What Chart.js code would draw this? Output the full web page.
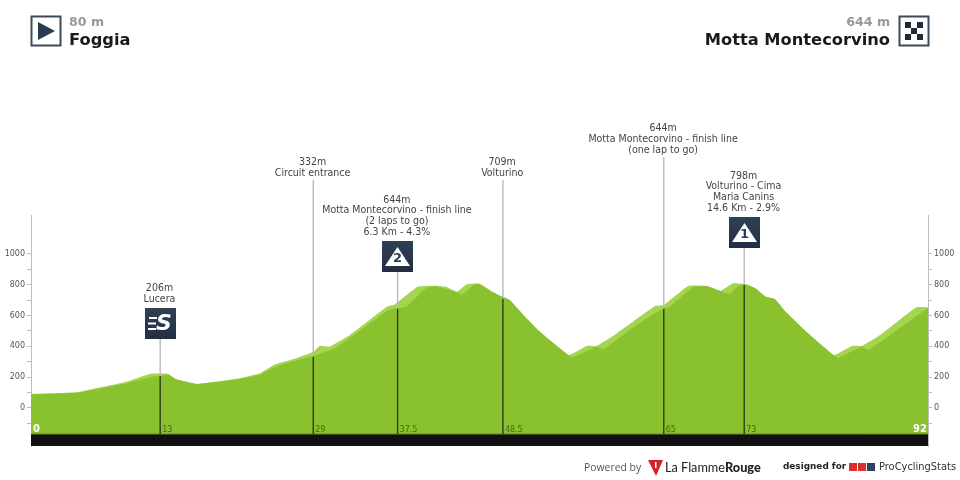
<!DOCTYPE html>
<html>
<head>
<meta charset="utf-8">
<title>Foggia - Motta Montecorvino</title>
<script src="https://cdn.jsdelivr.net/npm/chart.js@4/dist/chart.umd.min.js"></script>
<style>
    html, body { margin: 0; padding: 0; background: #fff; }
    #wrap { position: relative; width: 960px; height: 480px; overflow: hidden; }
    #profile { position: absolute; left: 0; top: 0; }
    .abs { position: absolute; white-space: nowrap; line-height: 1; }
    .head { font-family: "DejaVu Sans", sans-serif; font-weight: bold; }
    .alt { font-size: 12.6px; color: #999; top: 16px; }
    .place { font-size: 16.3px; color: #1a1a1a; top: 32px; }
    svg { position: absolute; }
</style>
</head>
<body>
<div id="wrap">
    <canvas id="profile" width="960" height="480"></canvas>

    <svg style="left:30px;top:15px" width="32" height="32">
        <rect x="1.5" y="1.5" width="29" height="29" fill="#fff" stroke="#3d4a5a" stroke-width="2"/>
        <polygon points="8,7 8,25 25,16" fill="#2a3b52"/>
    </svg>
    <div class="abs head alt" style="left:69px">80 m</div>
    <div class="abs head place" style="left:69px">Foggia</div>

    <svg style="left:898px;top:15px" width="32" height="32">
        <rect x="1.5" y="1.5" width="29" height="29" fill="#fff" stroke="#3d4a5a" stroke-width="2"/>
        <rect x="7" y="7" width="18" height="18" fill="#fff"/>
        <g fill="#1f2b3a">
            <rect x="7" y="7" width="6" height="6"/><rect x="19" y="7" width="6" height="6"/>
            <rect x="13" y="13" width="6" height="6"/>
            <rect x="7" y="19" width="6" height="6"/><rect x="19" y="19" width="6" height="6"/>
        </g>
    </svg>
    <div class="abs head alt" style="right:70px">644 m</div>
    <div class="abs head place" style="right:70px">Motta Montecorvino</div>

    <div class="abs" style="left:584px;top:460px;font:10.4px 'Open Sans',sans-serif;color:#555">Powered by</div>
    <svg style="left:648px;top:459px" width="16" height="18">
        <polygon points="0,1 15,1 8,17" fill="#d2232a"/>
        <rect x="7" y="3" width="1.5" height="6" fill="#fff"/>
    </svg>
    <div class="abs" style="left:665px;top:459px;font:12.7px Lato,sans-serif;color:#222">La Flamme<b style="font-weight:900">Rouge</b></div>
    <div class="abs" style="left:783px;top:461px;font:bold 8.9px 'DejaVu Sans',sans-serif;color:#222">designed for</div>
    <svg style="left:849px;top:463px" width="28" height="9">
        <rect x="0" y="0" width="8" height="8" fill="#d8312f"/>
        <rect x="9" y="0" width="8" height="8" fill="#d8312f"/>
        <rect x="18" y="0" width="8" height="8" fill="#33415c"/>
    </svg>
    <div class="abs" style="left:879px;top:461px;font:9.9px 'DejaVu Sans',sans-serif;color:#333">ProCyclingStats</div>
</div>

<script>
// Profile: km and metres
const kmUpper = [0, 4.7, 7.1, 9.8, 12.2, 14.1, 14.9, 17, 21.4, 23.5, 24.9, 27.2, 29, 29.6, 30.6, 32.7, 36.5, 37.3, 39.7, 41.4, 42.5, 43.7, 44.7, 46, 47.3, 48.3, 49.1, 50.5, 52.2, 55.1, 57, 58, 60, 64, 64.9, 67.4, 69.3, 70.7, 72, 73.2, 74.3, 75.3, 76.3, 77.3, 79.7, 82.3, 84.2, 85.2, 87.1, 90.8, 92];
const elevUpper = [91, 102, 134, 171, 221, 221, 186, 156, 193, 225, 279, 322, 366, 403, 398, 474, 658, 672, 788, 794, 788, 755, 803, 807, 755, 723, 701, 604, 495, 344, 403, 403, 481, 662, 669, 792, 792, 760, 810, 805, 777, 723, 706, 632, 485, 344, 403, 403, 474, 654, 654];

const kmLower = [0, 4.7, 7.1, 9.8, 12.2, 13.2, 14.1, 14.9, 17, 21.4, 23.5, 24.9, 27.2, 29, 31, 32.7, 36.5, 37.3, 38.5, 40.4, 41.4, 43.7, 44.3, 45.4, 46, 47.3, 48.3, 49.1, 50.5, 52.2, 55.1, 55.5, 58, 58.7, 62.1, 64.9, 65.5, 67.9, 69.3, 70.7, 71.7, 72.4, 73.2, 74.3, 75.3, 76.3, 77.3, 79.7, 82.3, 82.8, 85.2, 85.9, 88.4, 92];
const elevLower = [88, 98, 127, 160, 200, 210, 214, 186, 156, 188, 215, 262, 310, 338, 383, 455, 630, 647, 658, 773, 790, 751, 738, 799, 805, 755, 723, 701, 604, 495, 344, 327, 398, 381, 539, 647, 658, 784, 792, 760, 740, 786, 805, 777, 723, 706, 632, 485, 344, 325, 398, 377, 487, 649];

const kmBase = [0, 92];
const elevBase = [-169, -169];

// Tick values on both sides
const axisTicks = [-100, 0, 100, 200, 300, 400, 500, 600, 700, 800, 900, 1000];
const axisLabels = [0, 200, 400, 600, 800, 1000];

// Marked points along the route
const markerKm = [13.25, 28.95, 37.6, 48.4, 64.9, 73.15];
const markerKmText = ['13', '29', '37.5', '48.5', '65', '73'];
const markerElev = [206, 332, 644, 709, 644, 798];
const markerBadge = ['S', '', '2', '', '', '1'];
const markerText = [
    ['206m', 'Lucera'],
    ['332m', 'Circuit entrance'],
    ['644m', 'Motta Montecorvino - finish line', '(2 laps to go)', '6.3 Km - 4.3%'],
    ['709m', 'Volturino'],
    ['644m', 'Motta Montecorvino - finish line', '(one lap to go)'],
    ['798m', 'Volturino - Cima', 'Maria Canins', '14.6 Km - 2.9%']
];

const toPoints = (xs, ys) => xs.map((x, i) => ({ x: x, y: ys[i] }));

// Pixel top of each gray line / label block, and the badge box height
const LINE_TOP = [339, 180, 272, 180, 157, 248];
const BADGE = 31;
const LINE_H = 10.7;

function drawBadge(ctx, cx, bottom, kind) {
    const left = Math.round(cx - BADGE / 2);
    const top = bottom - BADGE;
    const grad = ctx.createLinearGradient(0, top, 0, bottom);
    grad.addColorStop(0, '#2f4057');
    grad.addColorStop(1, '#232f40');
    ctx.fillStyle = grad;
    ctx.fillRect(left, top, BADGE, BADGE);

    ctx.fillStyle = '#fff';
    if (kind === 'S') {
        ctx.fillRect(left + 4, top + 9, 8, 2);
        ctx.fillRect(left + 3, top + 14.5, 8, 2);
        ctx.fillRect(left + 3, top + 20, 8, 2);
        ctx.font = 'italic bold 22px "DejaVu Sans", sans-serif';
        ctx.textAlign = 'center';
        ctx.textBaseline = 'middle';
        ctx.fillText('S', left + 19, top + 16);
    } else {
        ctx.beginPath();
        ctx.moveTo(left + BADGE / 2, top + 6);
        ctx.lineTo(left + BADGE - 3, top + 25);
        ctx.lineTo(left + 3, top + 25);
        ctx.closePath();
        ctx.fill();
        ctx.fillStyle = '#2a3b52';
        ctx.font = 'bold 13px "DejaVu Sans", sans-serif';
        ctx.textAlign = 'center';
        ctx.textBaseline = 'middle';
        ctx.fillText(kind, left + BADGE / 2, top + 17.5);
    }
}

// Route markers, badges and their labels
const markerPlugin = {
    id: 'markers',
    afterDatasetsDraw(chart) {
        const ctx = chart.ctx;
        const x = chart.scales.x;
        const y = chart.scales.y;
        const roadTop = y.getPixelForValue(elevBase[0]);

        ctx.save();
        markerKm.forEach((km, i) => {
            const px = x.getPixelForValue(km);
            const surface = y.getPixelForValue(markerElev[i]);

            ctx.lineWidth = 1.4;
            ctx.strokeStyle = '#b9b9b9';
            ctx.beginPath();
            ctx.moveTo(px, LINE_TOP[i]);
            ctx.lineTo(px, surface);
            ctx.stroke();

            ctx.strokeStyle = '#2f3f14';
            ctx.beginPath();
            ctx.moveTo(px, surface);
            ctx.lineTo(px, roadTop);
            ctx.stroke();

            ctx.fillStyle = '#3f6d12';
            ctx.font = '8px "DejaVu Sans", sans-serif';
            ctx.textAlign = 'left';
            ctx.textBaseline = 'middle';
            ctx.fillText(markerKmText[i], px + 2, 429.5);

            let bottom = LINE_TOP[i];
            let gap = 7;
            if (markerBadge[i]) {
                drawBadge(ctx, px, bottom, markerBadge[i]);
                bottom -= BADGE;
                gap = 9;
            }
            ctx.fillStyle = '#444';
            ctx.font = '10.5px "DejaVu Sans Condensed", "DejaVu Sans", sans-serif';
            ctx.textAlign = 'center';
            ctx.textBaseline = 'middle';
            const lines = markerText[i];
            lines.forEach((line, n) => {
                ctx.fillText(line, px - 0.7, bottom - gap - (lines.length - 1 - n) * LINE_H);
            });
        });

        // Start and finish km on the road edge
        ctx.fillStyle = '#fff';
        ctx.font = 'bold 10px "DejaVu Sans", sans-serif';
        ctx.textBaseline = 'middle';
        ctx.textAlign = 'left';
        ctx.fillText('0', x.left + 2, 429);
        ctx.textAlign = 'right';
        ctx.fillText('92', x.right - 1, 429);
        ctx.restore();
    }
};

const axisOptions = (position) => ({
    type: 'linear',
    position: position,
    min: -247,
    max: 1253,
    afterBuildTicks(scale) {
        scale.ticks = axisTicks.map(v => ({ value: v }));
    },
    afterFit(scale) {
        scale.width = position === 'left' ? 31 : 32;
    },
    border: { display: true, color: '#bdbdbd', width: 1 },
    grid: { drawOnChartArea: false, drawTicks: true, tickLength: 4, color: '#bdbdbd' },
    ticks: {
        autoSkip: false,
        maxRotation: 0,
        padding: 2,
        color: '#555',
        font: { family: '"DejaVu Sans", sans-serif', size: 8 },
        callback: v => (axisLabels.includes(v) ? String(v) : '')
    }
});

new Chart(document.getElementById('profile').getContext('2d'), {
    type: 'line',
    data: {
        datasets: [
            {
                label: 'Road',
                data: toPoints(kmBase, elevBase),
                order: 0,
                backgroundColor: '#111',
                borderColor: '#6f8f2a',
                borderWidth: 1,
                fill: 'start',
                pointRadius: 0
            },
            {
                label: 'Elevation',
                data: toPoints(kmLower, elevLower),
                order: 1,
                backgroundColor: '#8ac22f',
                borderWidth: 0,
                tension: 0.12,
                fill: 'start',
                pointRadius: 0
            },
            {
                label: 'Elevation shade',
                data: toPoints(kmUpper, elevUpper),
                order: 2,
                backgroundColor: '#a3d64e',
                borderWidth: 0,
                tension: 0.12,
                fill: 'start',
                pointRadius: 0
            }
        ]
    },
    options: {
        responsive: false,
        animation: false,
        events: [],
        layout: { padding: { top: 215, bottom: 34 } },
        plugins: { legend: { display: false }, tooltip: { enabled: false } },
        scales: {
            x: { type: 'linear', display: false, min: 0, max: 92 },
            y: axisOptions('left'),
            y2: axisOptions('right')
        }
    },
    plugins: [markerPlugin]
});
</script>
</body>
</html>
